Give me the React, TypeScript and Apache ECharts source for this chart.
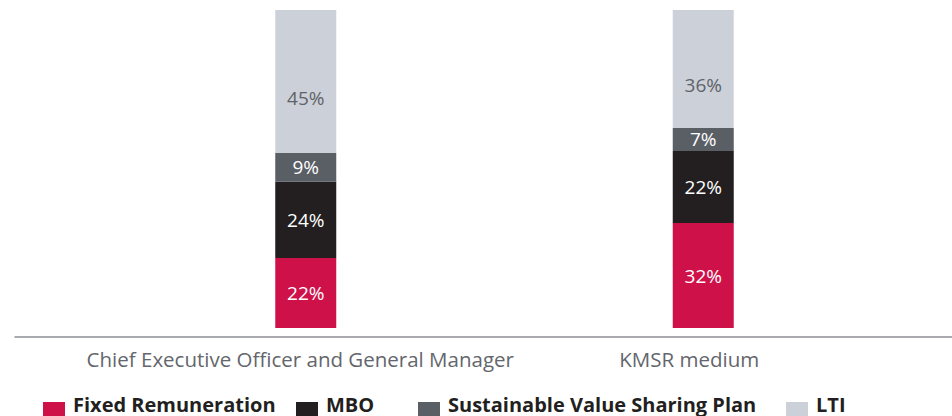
import React, { useEffect, useRef } from "react";
import * as echarts from "echarts";

const categories = ["Chief Executive Officer and General Manager", "KMSR medium"];
const seriesNames = ["Fixed Remuneration", "MBO", "Sustainable Value Sharing Plan", "LTI"];
const fixedRemuneration = [22, 32];
const mbo = [24, 22];
const sustainableValueSharingPlan = [9, 7];
const lti = [45, 36];
const colors = ["#cf114a", "#231f20", "#5a5e65", "#ccd0d8"];
const labelColors = ["#ffffff", "#ffffff", "#ffffff", "#5f6369"];
const legendLefts = [43, 296, 418, 786];

const FONT = "Open Sans";
// legend swatch: 22x22 square drawn low in a 25x40 box so the text sits above its centre
const LEGEND_ICON = "path://M0,0L0,0M25,0L25,0M0,18L22,18L22,40L0,40Z";

export default function App() {
  const ref = useRef<HTMLDivElement>(null);
  useEffect(() => {
    document.body.style.margin = "0";
    if (!ref.current) return;
    const chart = echarts.init(ref.current, null, { renderer: "svg" });
    const raw = [fixedRemuneration, mbo, sustainableValueSharingPlan, lti];
    const totals = categories.map((_, i) => raw.reduce((s, arr) => s + arr[i], 0));
    const series = raw.map((arr, k) => ({
      name: seriesNames[k],
      type: "bar",
      stack: "total",
      xAxisIndex: 0,
      yAxisIndex: 0,
      barWidth: 61,
      itemStyle: { color: colors[k] },
      label: {
        show: true,
        position: "inside",
        offset: k === 3 ? [0, 16] : [0, 0],
        color: labelColors[k],
        fontFamily: FONT,
        fontSize: 19,
        formatter: (p: any) => arr[p.dataIndex] + "%",
      },
      data: arr.map((v, i) => (v / totals[i]) * 100),
    }));
    chart.setOption({
      animation: false,
      textStyle: { fontFamily: FONT },
      grid: [
        { left: 107, right: 50, top: 10, bottom: 88 },
        { left: 15, right: 0, top: 10, bottom: 79 },
      ],
      xAxis: [
        {
          type: "category",
          gridIndex: 0,
          data: categories,
          axisLine: { show: false },
          axisTick: { show: false },
          axisLabel: {
            interval: 0,
            color: "#63666c",
            fontSize: 20.5,
            fontFamily: FONT,
            margin: 20,
            formatter: (v: string, i: number) => (i === 0 ? "{a|" + v + "}" : "{b|" + v + "}"),
            rich: {
              a: { color: "#63666c", fontSize: 20.5, fontFamily: FONT, padding: [0, 11, 0, 0] },
              b: { color: "#63666c", fontSize: 20.5, fontFamily: FONT, padding: [0, 28, 0, 0] },
            },
          },
        },
        {
          type: "category",
          gridIndex: 1,
          data: [""],
          axisLine: { show: true, lineStyle: { color: "#8b8e94", width: 1.5 } },
          axisTick: { show: false },
          axisLabel: { show: false },
        },
      ],
      yAxis: [
        { type: "value", gridIndex: 0, min: 0, max: 100, show: false },
        { type: "value", gridIndex: 1, min: 0, max: 100, show: false },
      ],
      legend: seriesNames.map((n, k) => ({
        data: [n],
        left: legendLefts[k],
        top: 384,
        padding: 0,
        itemWidth: 25,
        itemHeight: 40,
        itemGap: 0,
        icon: LEGEND_ICON,
        textStyle: {
          color: "#231f20",
          fontSize: 20,
          fontWeight: "bold",
          fontFamily: FONT,
        },
      })),
      series,
    });
    return () => chart.dispose();
  }, []);
  return <div ref={ref} style={{ width: 952, height: 416 }} />;
}
